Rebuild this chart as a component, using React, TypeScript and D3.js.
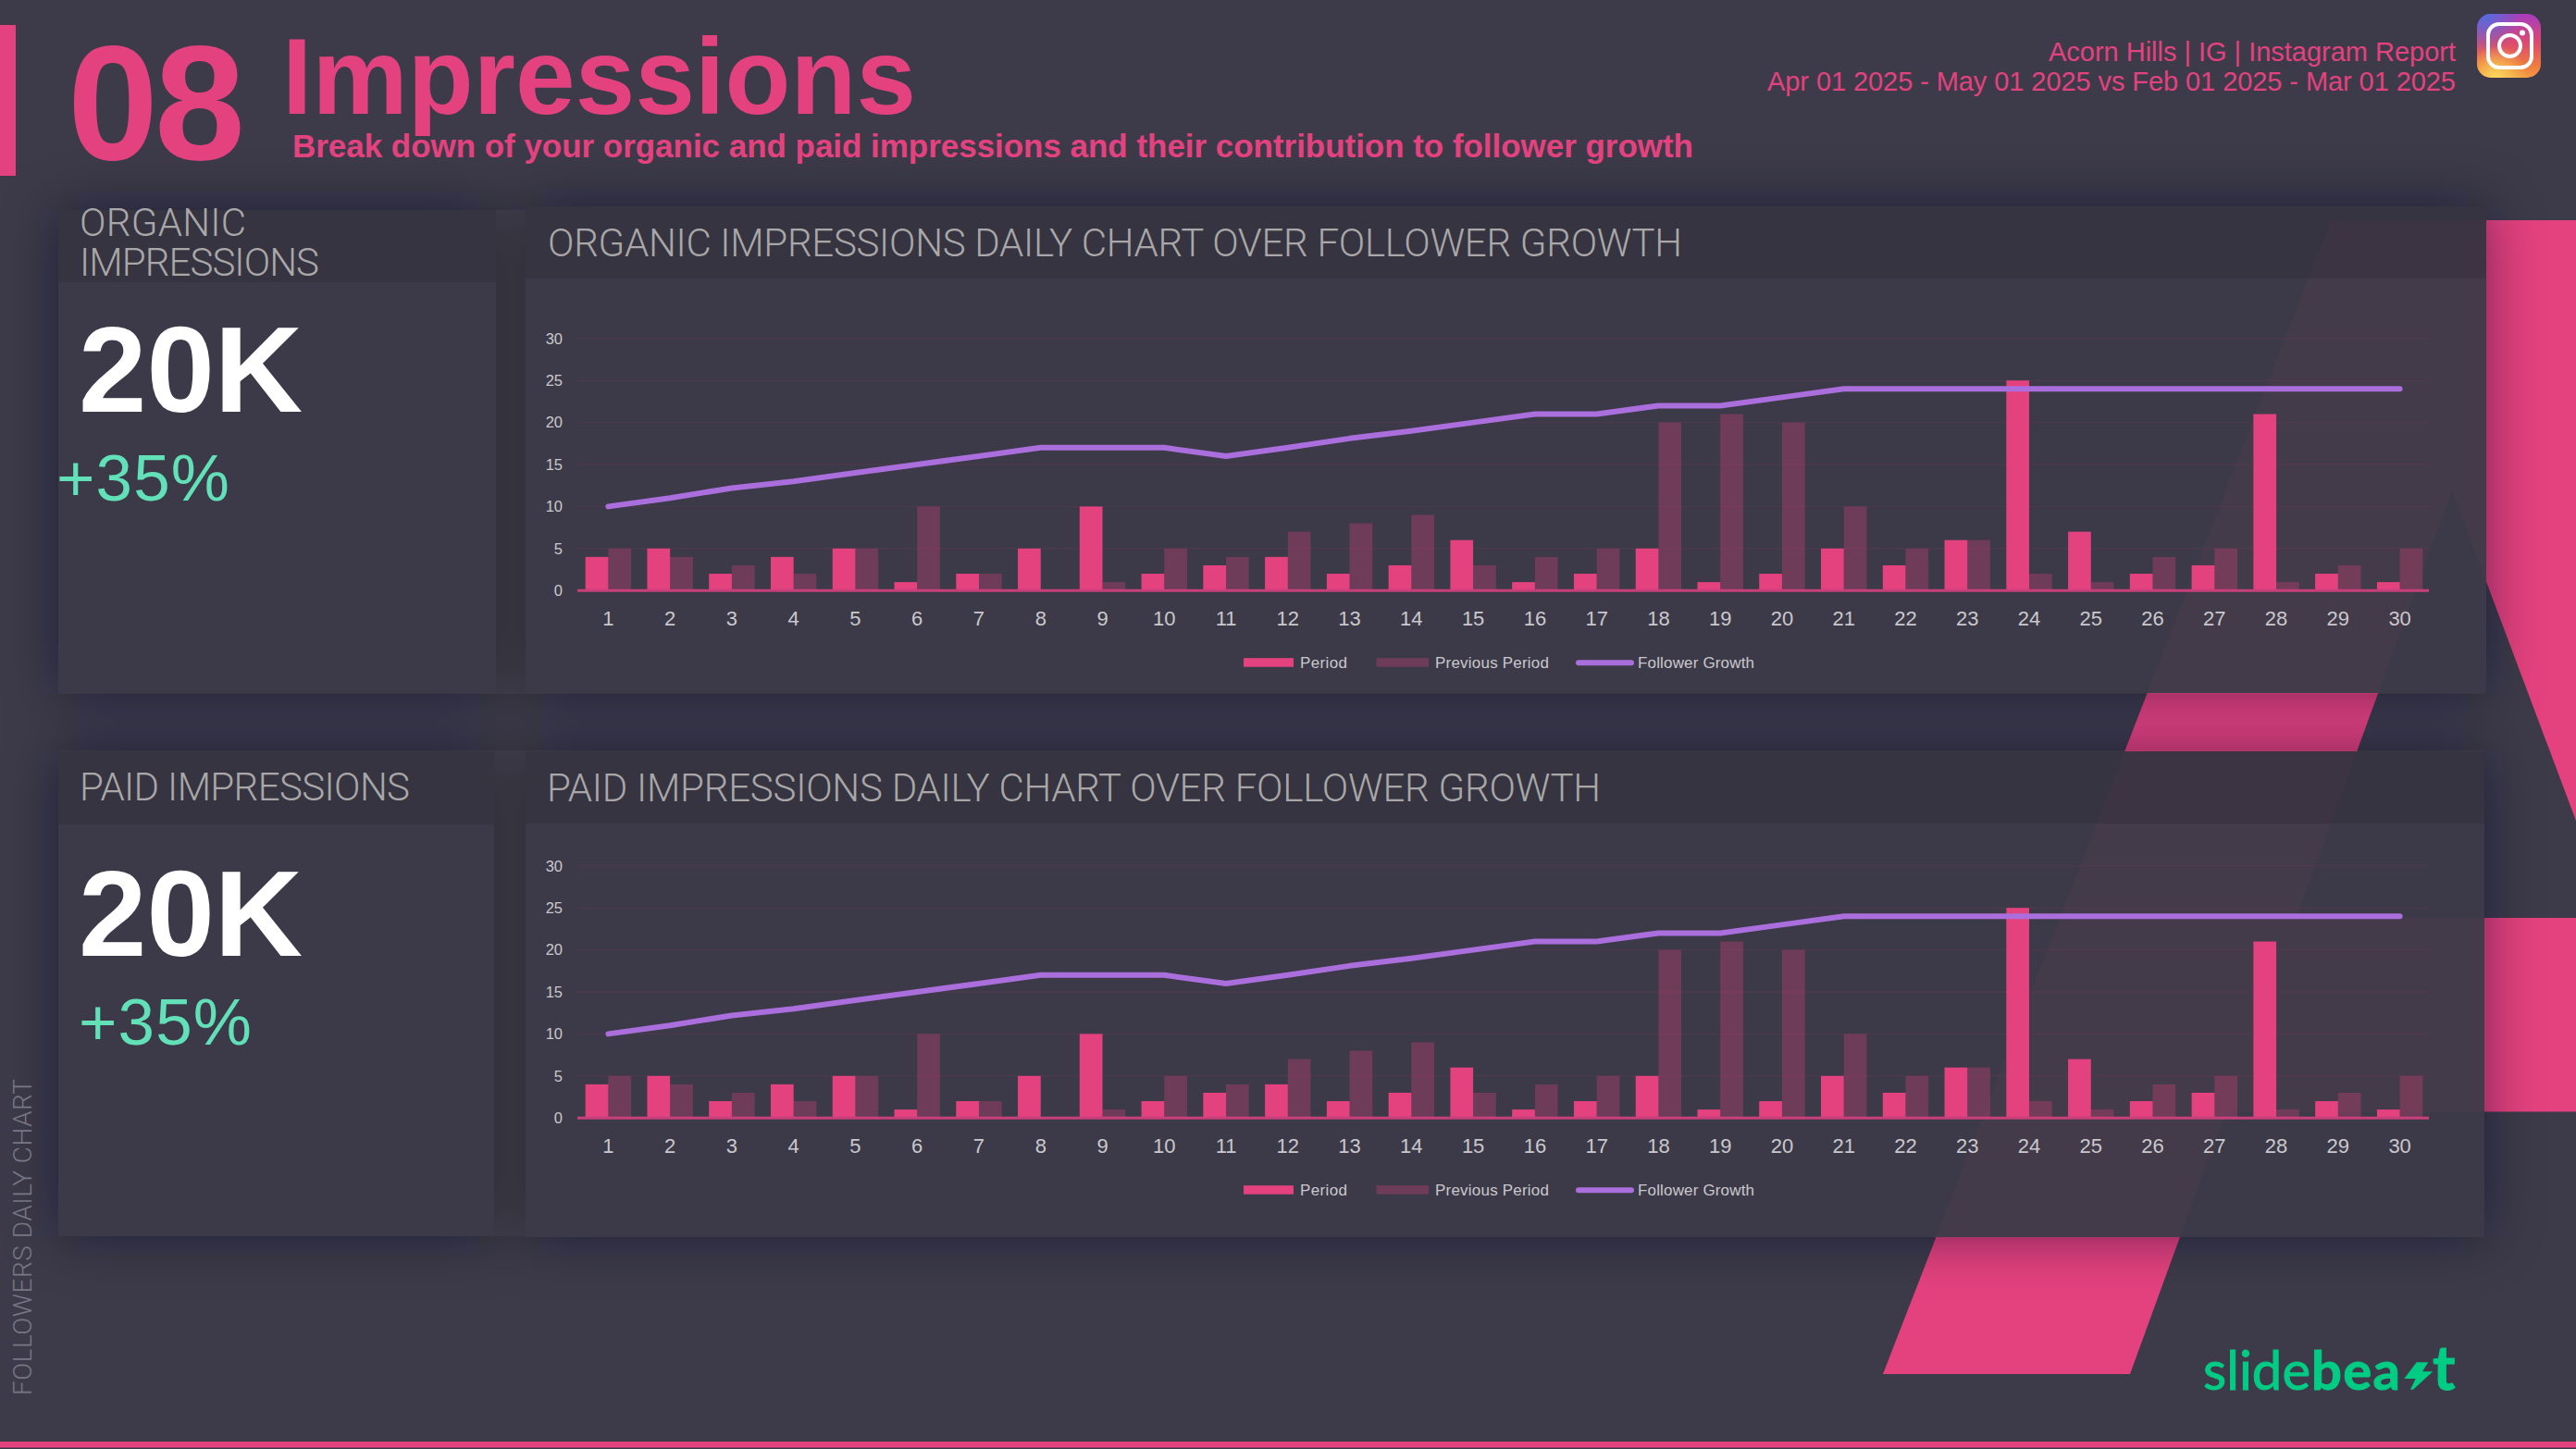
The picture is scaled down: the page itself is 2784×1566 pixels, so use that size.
import { useEffect, useRef } from 'react';
import * as d3 from 'd3';

const days = d3.range(1, 31).map(String);
const periodValues = [4, 5, 2, 4, 5, 1, 2, 5, 10, 2, 3, 4, 2, 3, 6, 1, 2, 5, 1, 2, 5, 3, 6, 25, 7, 2, 3, 21, 2, 1];
const previousValues = [5, 4, 3, 2, 5, 10, 2, 0, 1, 5, 4, 7, 8, 9, 3, 4, 5, 20, 21, 20, 10, 5, 6, 2, 1, 4, 5, 1, 3, 5];
const followerGrowth = [10, 11, 12.2, 13, 14, 15, 16, 17, 17, 17, 16, 17, 18.1, 19, 20, 21, 21, 22, 22, 23, 24, 24, 24, 24, 24, 24, 24, 24, 24, 24];
const yTicks = [0, 5, 10, 15, 20, 25, 30];

const PINK = '#e4427f';
const PURPLE = '#aa6fdc';
const FONT = '"Liberation Sans", Arial, sans-serif';
const LIGHT_FONT = 'Roboto, "Liberation Sans", sans-serif';

const panels = [
  { x: 63, y: 227, w: 473, headerBottom: 305, bottom: 749 },
  { x: 568, y: 223, w: 2119, headerBottom: 301, bottom: 749 },
  { x: 63, y: 812, w: 471, headerBottom: 891, bottom: 1336 },
  { x: 568, y: 812, w: 2117, headerBottom: 890, bottom: 1337 },
];

function DailyChart({ baseline }: { baseline: number }) {
  const ref = useRef<SVGGElement>(null);

  useEffect(() => {
    if (!ref.current) {
      return;
    }
    const g = d3.select(ref.current);
    g.selectAll('*').remove();

    const left = 624;
    const right = 2625;
    const y = d3.scaleLinear().domain([0, 30]).range([baseline, baseline - 272.4]);
    const x = d3.scaleBand<string>().domain(days).range([left, right + 2]).paddingInner(0.26).paddingOuter(0.13);
    const sub = d3.scaleBand<string>().domain(['period', 'previous']).range([0, x.bandwidth()]);

    const grid = g.append('g');
    grid
      .selectAll('line')
      .data(yTicks.slice(1))
      .join('line')
      .attr('x1', left)
      .attr('x2', right)
      .attr('y1', (d) => y(d))
      .attr('y2', (d) => y(d))
      .attr('stroke', PINK)
      .attr('stroke-opacity', 0.08)
      .attr('stroke-width', 1.5);

    const yAxis = g
      .append('g')
      .attr('transform', `translate(${left},0)`)
      .call(d3.axisLeft(y).tickValues(yTicks).tickSize(0).tickPadding(16));
    yAxis.select('.domain').remove();
    yAxis.selectAll('text').attr('font-size', 16.5).attr('font-family', FONT).attr('fill', '#c9c8cc');

    const xAxis = g
      .append('g')
      .attr('transform', `translate(0,${baseline})`)
      .call(d3.axisBottom(x).tickSize(0).tickPadding(22));
    xAxis.select('.domain').remove();
    xAxis.selectAll('text').attr('font-size', 22).attr('font-family', FONT).attr('fill', '#c9c8cc');

    g.append('g')
      .selectAll('rect')
      .data(days)
      .join('rect')
      .attr('x', (d) => (x(d) ?? 0) + (sub('previous') ?? 0))
      .attr('y', (_d, i) => y(previousValues[i]))
      .attr('width', sub.bandwidth())
      .attr('height', (_d, i) => baseline - y(previousValues[i]))
      .attr('fill', PINK)
      .attr('fill-opacity', 0.3);

    g.append('g')
      .selectAll('rect')
      .data(days)
      .join('rect')
      .attr('x', (d) => (x(d) ?? 0) + (sub('period') ?? 0))
      .attr('y', (_d, i) => y(periodValues[i]))
      .attr('width', sub.bandwidth())
      .attr('height', (_d, i) => baseline - y(periodValues[i]))
      .attr('fill', PINK);

    g.append('line')
      .attr('x1', left)
      .attr('x2', right)
      .attr('y1', baseline)
      .attr('y2', baseline)
      .attr('stroke', '#c8407a')
      .attr('stroke-width', 3);

    const line = d3
      .line<number>()
      .x((_d, i) => (x(days[i]) ?? 0) + x.bandwidth() / 2)
      .y((d) => y(d));

    g.append('path')
      .attr('d', line(followerGrowth))
      .attr('fill', 'none')
      .attr('stroke', PURPLE)
      .attr('stroke-width', 6)
      .attr('stroke-linecap', 'round')
      .attr('stroke-linejoin', 'round');
  }, [baseline]);

  const legendY = baseline + 78;
  return (
    <g>
      <g ref={ref} />
      <g fontFamily={FONT} fontSize={17} fill="#c9c8cc">
        <rect x={1344} y={legendY - 5} width={54} height={9.5} fill={PINK} />
        <text x={1405} y={legendY + 6} textLength={51}>Period</text>
        <rect x={1487.5} y={legendY - 5} width={56.5} height={9.5} fill={PINK} fillOpacity={0.3} />
        <text x={1551} y={legendY + 6} textLength={123}>Previous Period</text>
        <line x1={1706} x2={1763} y1={legendY} y2={legendY} stroke={PURPLE} strokeWidth={6} strokeLinecap="round" />
        <text x={1770} y={legendY + 6} textLength={126}>Follower Growth</text>
      </g>
    </g>
  );
}

function InstagramIcon() {
  return (
    <g>
      <defs>
        <linearGradient id="igBase" x1="0" y1="0" x2="0" y2="1">
          <stop offset="0" stopColor="#a83cc0" />
          <stop offset="0.45" stopColor="#dc4a70" />
          <stop offset="0.8" stopColor="#ee7a3e" />
          <stop offset="1" stopColor="#f29a44" />
        </linearGradient>
        <radialGradient id="igBlue" cx="0.1" cy="0" r="0.6">
          <stop offset="0" stopColor="#4f6fe0" />
          <stop offset="1" stopColor="#4f6fe0" stopOpacity={0} />
        </radialGradient>
        <radialGradient id="igYellow" cx="0.3" cy="1" r="0.5">
          <stop offset="0" stopColor="#fbd85c" />
          <stop offset="1" stopColor="#fbd85c" stopOpacity={0} />
        </radialGradient>
      </defs>
      <rect x={2677} y={15} width={69} height={69} rx={15} fill="url(#igBase)" />
      <rect x={2677} y={15} width={69} height={69} rx={15} fill="url(#igBlue)" />
      <rect x={2677} y={15} width={69} height={69} rx={15} fill="url(#igYellow)" />
      <rect x={2689} y={26} width={47} height={47} rx={12} fill="none" stroke="#fff" strokeWidth={4} />
      <circle cx={2712.5} cy={49.5} r={11.5} fill="none" stroke="#fff" strokeWidth={4} />
      <circle cx={2726} cy={35.5} r={3} fill="#fff" />
    </g>
  );
}

function Logo() {
  const green = '#00cc84';
  return (
    <g fill={green} fontFamily='Lato, "Liberation Sans", sans-serif'>
      <title>slidebeast</title>
      <text x={2381} y={1502} fontSize={58} textLength={116} stroke={green} strokeWidth={1}>slide</text>
      <text x={2498} y={1502} fontSize={58} fontWeight={700} textLength={96} stroke={green} strokeWidth={1}>bea</text>
      <polygon points="2611.7,1472.3 2624.3,1472.3 2618,1482.3 2629.3,1482.3 2608,1501.7 2605,1501.7 2610.7,1490 2598.3,1490" />
      <text x={2629} y={1502} fontSize={66} fontWeight={700} textLength={24} stroke={green} strokeWidth={1}>t</text>
    </g>
  );
}

export default function App() {
  return (
    <svg
      width={2784}
      height={1566}
      viewBox="0 0 2784 1566"
      style={{ position: 'fixed', left: 0, top: 0, display: 'block' }}
    >
      <defs>
        <filter id="panelShadow" x="-20%" y="-40%" width="140%" height="180%">
          <feGaussianBlur stdDeviation={30} />
        </filter>
        <mask id="outsidePanels" maskUnits="userSpaceOnUse" x={0} y={0} width={2784} height={1566}>
          <rect width={2784} height={1566} fill="#fff" />
          {panels.map((p) => (
            <rect key={`${p.x}-${p.y}`} x={p.x} y={p.y} width={p.w} height={p.bottom - p.y} fill="#000" />
          ))}
        </mask>
      </defs>

      <rect width={2784} height={1566} fill="#3d3b4a" />

      <g fill={PINK}>
        <polygon points="2519,238 2784,238 2784,887 2650,530 2302,1485 2035,1485" />
        <rect x={2400} y={992} width={384} height={209.5} />
        <rect x={0} y={27} width={17} height={163} />
        <rect x={0} y={1558} width={2784} height={6.5} />
      </g>

      <g mask="url(#outsidePanels)">
        <g filter="url(#panelShadow)" fill="#17171f" fillOpacity={0.48}>
          {panels.map((p) => (
            <rect key={`${p.x}-${p.y}`} x={p.x} y={p.y} width={p.w} height={p.bottom - p.y} />
          ))}
        </g>
      </g>

      {panels.map((p) => (
        <g key={`${p.x}-${p.y}`}>
          <rect x={p.x} y={p.y} width={p.w} height={p.headerBottom - p.y} fill="#353440" fillOpacity={0.96} />
          <rect x={p.x} y={p.headerBottom} width={p.w} height={p.bottom - p.headerBottom} fill="#3c3a48" fillOpacity={0.96} />
        </g>
      ))}

      <g fontFamily={FONT} fill={PINK}>
        <text x={73} y={172} fontSize={176} fontWeight={700} textLength={192}>08</text>
        <text x={305} y={123} fontSize={116} fontWeight={700} textLength={685}>Impressions</text>
        <text x={316} y={170} fontSize={35} fontWeight={700} textLength={1514}>
          Break down of your organic and paid impressions and their contribution to follower growth
        </text>
        <text x={2654} y={66} fontSize={29} textAnchor="end" textLength={440}>Acorn Hills | IG | Instagram Report</text>
        <text x={2654} y={98} fontSize={29} textAnchor="end" textLength={744}>Apr 01 2025 - May 01 2025 vs Feb 01 2025 - Mar 01 2025</text>
      </g>

      <g fontFamily={LIGHT_FONT} fontWeight={300} fontSize={42} fill="#a9a7a8">
        <text x={86} y={255} textLength={180}>ORGANIC</text>
        <text x={86} y={298} textLength={259}>IMPRESSIONS</text>
        <text x={592} y={277} textLength={1226}>ORGANIC IMPRESSIONS DAILY CHART OVER FOLLOWER GROWTH</text>
        <text x={86} y={865} textLength={357}>PAID IMPRESSIONS</text>
        <text x={591} y={866} textLength={1139}>PAID IMPRESSIONS DAILY CHART OVER FOLLOWER GROWTH</text>
      </g>

      <g fontFamily={FONT}>
        <text x={85} y={445} fontSize={132} fontWeight={700} fill="#fff">20K</text>
        <text x={61} y={541} fontSize={71} fill="#62e0b8" textLength={187}>+35%</text>
        <text x={85} y={1033} fontSize={132} fontWeight={700} fill="#fff">20K</text>
        <text x={85} y={1129} fontSize={71} fill="#62e0b8" textLength={187}>+35%</text>
      </g>

      <text
        transform="translate(34,1508) rotate(-90)"
        fontFamily={LIGHT_FONT}
        fontWeight={300}
        fontSize={28}
        fill="#777684"
        textLength={342}
      >
        FOLLOWERS DAILY CHART
      </text>

      <DailyChart baseline={638.2} />
      <DailyChart baseline={1208.2} />

      <InstagramIcon />
      <Logo />
    </svg>
  );
}
